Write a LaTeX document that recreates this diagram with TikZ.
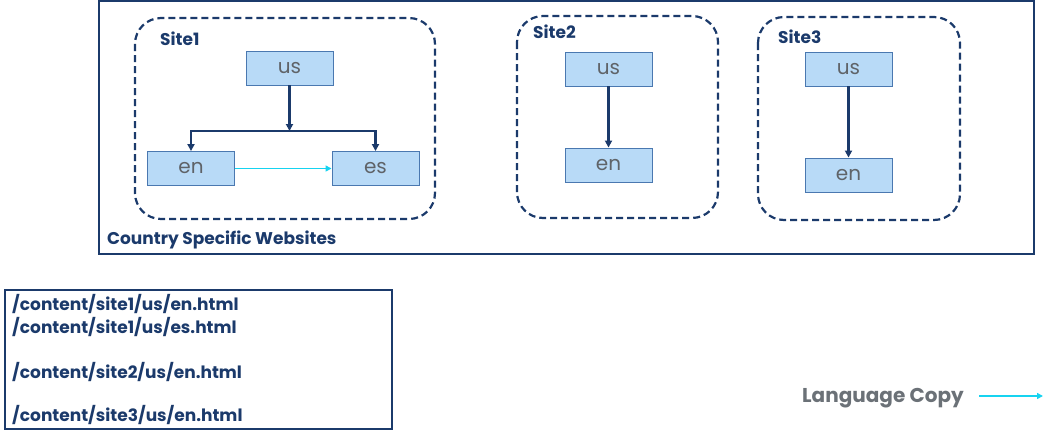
\documentclass[tikz,border=0pt]{standalone}
\usepackage{fontspec}
\setmainfont{Poppins}
\usetikzlibrary{arrows.meta}
\definecolor{navy}{HTML}{1B3A6B}
\definecolor{boxfill}{HTML}{B8DAF7}
\definecolor{boxline}{HTML}{4A78B0}
\definecolor{txtgray}{HTML}{5F6368}
\definecolor{cyanl}{HTML}{16D3F0}
\definecolor{lgray}{HTML}{6B7177}
\tikzset{
  x=1pt, y=-1pt,
  page/.style={draw=boxline, fill=boxfill, line width=0.9pt, minimum width=87pt, minimum height=34pt, inner sep=0pt, text=txtgray, font=\fontsize{20}{20}\selectfont},
  site/.style={draw=navy, line width=2.2pt, dash pattern=on 7pt off 4pt, rounded corners=26pt},
  sitelabel/.style={anchor=west, text=navy, font=\bfseries\fontsize{17}{17}\selectfont, inner sep=0pt},
  child/.style={draw=navy, line width=2.2pt, -{Triangle[length=7pt,width=7pt]}},
  copyarrow/.style={draw=cyanl, line width=1.6pt, -{Triangle[length=6pt,width=6pt]}},
  frame/.style={draw=navy, line width=2pt},
  path/.style={anchor=west, text=navy, font=\bfseries\fontsize{17}{17}\selectfont, inner sep=0pt}
}
\begin{document}
\begin{tikzpicture}
\useasboundingbox (0,0) rectangle (1050,437);
% outer frame
\draw[frame] (99,1) rectangle (1034,254);
\node[path] (csw) at (107,240) {Country Specific Websites};
% site boxes
\draw[site] (135,18) rectangle (435,219);
\draw[site] (517,16) rectangle (718,218);
\draw[site] (758,17) rectangle (960,220);
\node[sitelabel] (s1) at (160,39) {Site1};
\node[sitelabel] (s2) at (533,32) {Site2};
\node[sitelabel] (s3) at (778,37) {Site3};
% site1
\node[page] (us1) at (289.5,68) {us};
\node[page] (en1) at (191,168.5) {en};
\node[page] (es1) at (375.5,168.5) {es};
\coordinate (j1) at (289.5,131);
\draw[child] (us1.south) -- (j1);
\draw[child] (j1) -| (en1.north);
\draw[child] (j1) -| (es1.north);
\draw[copyarrow] (en1.east) -- (es1.west);
% site2
\node[page] (us2) at (608.5,69) {us};
\node[page] (en2) at (608.5,165) {en};
\draw[child] (us2) -- (en2);
% site3
\node[page] (us3) at (848.5,69) {us};
\node[page] (en3) at (848.5,175) {en};
\draw[child] (us3) -- (en3);
% paths box
\draw[frame] (5,290) rectangle (392,429);
\node[path] (p1) at (12,304) {/content/site1/us/en.html};
\node[path] (p2) at (12,327) {/content/site1/us/es.html};
\node[path] (p3) at (12,372) {/content/site2/us/en.html};
\node[path] (p4) at (12,415) {/content/site3/us/en.html};
% legend
\node[anchor=west, text=lgray, font=\bfseries\fontsize{20}{20}\selectfont, inner sep=0pt] (lc) at (802,398) {Language Copy};
\coordinate (la) at (979,396);
\coordinate (lb) at (1043,396);
\draw[copyarrow] (la) -- (lb);
\end{tikzpicture}
\end{document}
